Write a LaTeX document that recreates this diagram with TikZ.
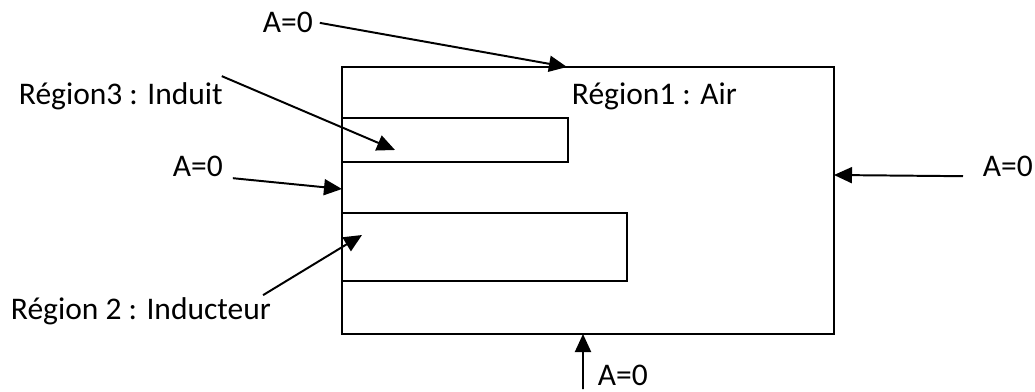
\documentclass[tikz,border=0pt]{standalone}
\usepackage{fontspec}
\setmainfont{Carlito}
\usetikzlibrary{arrows.meta}

\begin{document}
\begin{tikzpicture}[x=0.025cm,y=-0.025cm,line width=1.4pt,
    lbl/.style={font=\fontsize{22.4}{27}\selectfont,inner sep=0pt,anchor=base west},
    fleche/.style={-{Triangle[length=0.45cm,width=0.4cm]}}]
  \useasboundingbox (0,0) rectangle (1035,392);
  % domain and the two inner regions
  \draw (342,67) rectangle (834,334);
  \draw (342,118) rectangle (568,162);
  \draw (342,213) rectangle (627,281);
  % points where the arrows hit
  \coordinate (ptop) at (567,67);
  \coordinate (pleft) at (342,189);
  \coordinate (pright) at (834,175);
  \coordinate (pbot) at (583,334);
  \coordinate (pind) at (395,150);
  \coordinate (pinduc) at (362,235);
  % labels
  \node[lbl] (atop) at (262,33) {A=0};
  \node[lbl] (aleft) at (172,177) {A=0};
  \node[lbl] (aright) at (982,177) {A=0};
  \node[lbl] (abot) at (597,386) {A=0};
  \node[lbl] (rind) at (18,105) {Région3 : Induit};
  \node[lbl] (rair) at (571,105) {Région1 : Air};
  \node[lbl] (rinduc) at (10,320) {Région 2 : Inducteur};
  % arrows
  \draw[fleche] ([xshift=0.15cm]atop.east) -- (ptop);
  \draw[fleche] ([xshift=0.225cm]aleft.south east) -- (pleft);
  \draw[fleche] ([shift={(-0.475cm,0.05cm)}]aright.south west) -- (pright);
  \draw[fleche] ([xshift=-0.35cm,yshift=-0.05cm]abot.south west) -- (pbot);
  \draw[fleche] ([shift={(-0.05cm,0.15cm)}]rind.north east) -- (pind);
  \draw[fleche] ([shift={(-0.22cm,0.05cm)}]rinduc.north east) -- (pinduc);
\end{tikzpicture}
\end{document}
